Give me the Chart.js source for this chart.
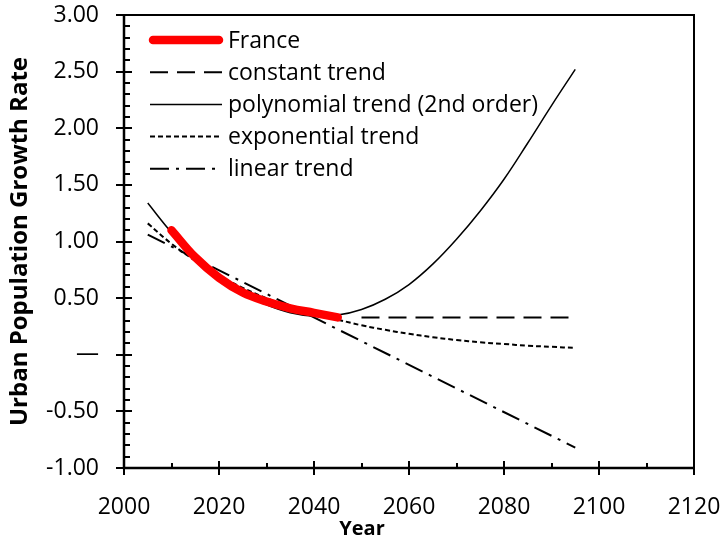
<!DOCTYPE html>
<html>
<head>
<meta charset="utf-8">
<script src="https://cdn.jsdelivr.net/npm/chart.js@4.4.0/dist/chart.umd.min.js"></script>
<style>
	body { margin: 0; background: #fff; }
</style>
</head>
<body>
<canvas id="myChart" width="724" height="558"></canvas>
<script>
/* Datos */
var franceYears = [2010, 2015, 2020, 2025, 2030, 2035, 2040, 2045];
var franceRate = [1.10, 0.86, 0.68, 0.55, 0.47, 0.41, 0.37, 0.33];

var trendYears = [2005, 2010, 2015, 2020, 2025, 2030, 2035, 2040, 2045, 2050,
	2055, 2060, 2065, 2070, 2075, 2080, 2085, 2090, 2095];
var polyRate = [1.34, 1.08, 0.86, 0.68, 0.54, 0.44, 0.37, 0.34, 0.35, 0.40,
	0.49, 0.62, 0.80, 1.02, 1.27, 1.55, 1.87, 2.20, 2.52];
var expRate = [1.16, 0.98, 0.83, 0.70, 0.59, 0.50, 0.42, 0.36, 0.31, 0.26,
	0.22, 0.185, 0.155, 0.13, 0.11, 0.095, 0.08, 0.07, 0.06];

var constantYears = [2050, 2095];
var constantRate = [0.33, 0.33];

var linearYears = [2005, 2095];
var linearRate = [1.06, -0.82];

var seriesLabels = ["France", "constant trend", "polynomial trend (2nd order)", "exponential trend", "linear trend"];

var xTicks = [2000, 2020, 2040, 2060, 2080, 2100, 2120];
var yTicks = [-1.00, -0.50, 0, 0.50, 1.00, 1.50, 2.00, 2.50, 3.00];

var fuente = "'Open Sans', Lato, sans-serif";

function puntos(xs, ys) {
	var arr = [];
	for (var i = 0; i < xs.length; i++) {
		arr.push({ x: xs[i], y: ys[i] });
	}
	return arr;
}

var datos = {
	datasets: [
		{
			label: seriesLabels[0],
			data: puntos(franceYears, franceRate),
			borderColor: "#ff0000",
			borderWidth: 8.5,
			borderCapStyle: "round",
			tension: 0.4
		},
		{
			label: seriesLabels[1],
			data: puntos(constantYears, constantRate),
			borderColor: "#000",
			borderWidth: 2,
			borderDash: [18, 9]
		},
		{
			label: seriesLabels[2],
			data: puntos(trendYears, polyRate),
			borderColor: "#000",
			borderWidth: 1.5,
			tension: 0.4
		},
		{
			label: seriesLabels[3],
			data: puntos(trendYears, expRate),
			borderColor: "#000",
			borderWidth: 2,
			borderDash: [5, 3],
			tension: 0.4
		},
		{
			label: seriesLabels[4],
			data: puntos(linearYears, linearRate),
			borderColor: "#000",
			borderWidth: 2,
			borderDash: [19, 7, 3, 7]
		}
	]
};

// ticks que cruzan el eje, borde del area, leyenda y titulo X
var ejesPlugin = {
	id: "ejes",
	afterDatasetsDraw: function(chart) {
		var ctx = chart.ctx;
		var a = chart.chartArea;
		var sx = chart.scales.x;
		var sy = chart.scales.y;
		ctx.save();
		ctx.strokeStyle = "#000";
		ctx.lineWidth = 2;
		ctx.strokeRect(a.left, a.top, a.right - a.left, a.bottom - a.top);

		ctx.lineWidth = 2.5;
		ctx.beginPath();
		ctx.moveTo(a.left, a.top);
		ctx.lineTo(a.left, a.bottom);
		ctx.lineTo(a.right, a.bottom);
		ctx.stroke();

		ctx.lineWidth = 2;
		ctx.beginPath();
		for (var i = -10; i <= 30; i++) {
			var py = Math.round(sy.getPixelForValue(i / 10));
			if (i % 5 == 0) {
				ctx.moveTo(a.left - 8, py);
				ctx.lineTo(a.left + 8, py);
			} else {
				ctx.moveTo(a.left, py);
				ctx.lineTo(a.left + 6, py);
			}
		}
		for (var yr = 2000; yr <= 2120; yr += 10) {
			var px = Math.round(sx.getPixelForValue(yr));
			if (yr % 20 == 0) {
				ctx.moveTo(px, a.bottom - 7);
				ctx.lineTo(px, a.bottom + 7);
			} else {
				ctx.moveTo(px, a.bottom);
				ctx.lineTo(px, a.bottom - 5);
			}
		}
		ctx.stroke();

		// leyenda
		ctx.font = "23px " + fuente;
		ctx.textBaseline = "middle";
		ctx.fillStyle = "#000";
		for (var k = 0; k < chart.data.datasets.length; k++) {
			var ds = chart.data.datasets[k];
			var ly = 40 + k * 32.2;
			ctx.beginPath();
			ctx.strokeStyle = ds.borderColor;
			ctx.lineWidth = ds.borderWidth;
			ctx.lineCap = ds.borderCapStyle || "butt";
			ctx.setLineDash(ds.borderDash || []);
			if (k == 0) {
				ctx.moveTo(153, ly);
				ctx.lineTo(219, ly);
			} else {
				ctx.moveTo(150, ly);
				ctx.lineTo(222, ly);
			}
			ctx.stroke();
			ctx.setLineDash([]);
			ctx.fillText(ds.label, 228, ly + 1);
		}

		ctx.font = "bold 20px " + fuente;
		ctx.textAlign = "center";
		ctx.fillText("Year", 362, 529);
		ctx.restore();
	}
};

var options = {
	responsive: false,
	animation: false,
	devicePixelRatio: 1,
	layout: { padding: { top: 15, right: 30, left: 0, bottom: 0 } },
	elements: { point: { radius: 0 }, line: { fill: false } },
	plugins: {
		legend: { display: false },
		tooltip: { enabled: false }
	},
	scales: {
		x: {
			type: "linear",
			min: 2000,
			max: 2120,
			afterFit: function(s) {
				s.height = 90;
				s.paddingLeft = 0;
				s.paddingRight = 0;
			},
			afterBuildTicks: function(s) {
				s.ticks = xTicks.map(function(v) { return { value: v }; });
			},
			grid: { display: false, drawTicks: false, tickLength: 0 },
			border: { display: false },
			ticks: {
				color: "#000",
				padding: 26,
				maxRotation: 0,
				font: { family: fuente, size: 23 },
				callback: function(v) { return String(v); }
			}
		},
		y: {
			min: -1,
			max: 3,
			afterFit: function(s) {
				s.width = 124;
				s.paddingTop = 0;
				s.paddingBottom = 0;
			},
			afterBuildTicks: function(s) {
				s.ticks = yTicks.map(function(v) { return { value: v }; });
			},
			grid: { display: false, drawTicks: false, tickLength: 0 },
			border: { display: false },
			ticks: {
				color: "#000",
				padding: 25,
				font: { family: fuente, size: 23 },
				callback: function(v) {
					if (v == 0) return "\u2014";
					return v.toFixed(2);
				}
			},
			title: {
				display: true,
				text: "Urban Population Growth Rate",
				color: "#000",
				padding: { top: 6, bottom: 0 },
				font: { family: fuente, size: 24, weight: "bold" }
			}
		}
	}
};

var ctx = document.getElementById("myChart").getContext("2d");
var grafico = new Chart(ctx, {
	type: "line",
	data: datos,
	options: options,
	plugins: [ejesPlugin]
});
</script>
</body>
</html>
